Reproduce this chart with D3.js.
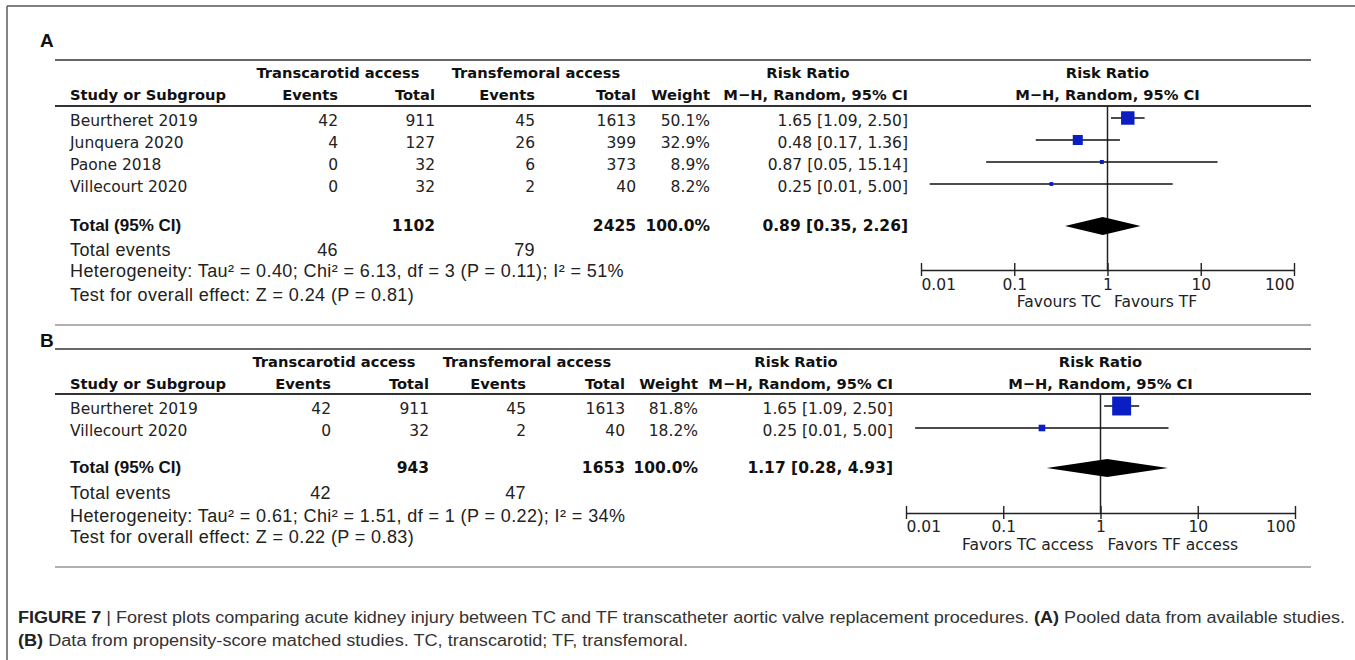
<!DOCTYPE html>
<html>
<head>
<meta charset="utf-8">
<script src="https://cdn.jsdelivr.net/npm/d3@7"></script>
<style>
  html, body { margin: 0; padding: 0; background: #fff; }
  svg { display: block; }
  .tbl   { font-family: "DejaVu Sans", sans-serif; font-size: 15.5px; fill: #222; }
  .hdr   { font-family: "DejaVu Sans", sans-serif; font-size: 14.7px; font-weight: bold; fill: #111; }
  .tblb  { font-family: "DejaVu Sans", sans-serif; font-size: 15.5px; font-weight: bold; fill: #111; }
  .foot  { font-family: "Liberation Sans", Arial, sans-serif; font-size: 18px; letter-spacing: 0.4px; fill: #222; }
  .footb { font-family: "Liberation Sans", Arial, sans-serif; font-size: 17px; font-weight: bold; fill: #111; }
  .letter{ font-family: "Liberation Sans", Arial, sans-serif; font-size: 19px; font-weight: bold; fill: #111; }
  .cap   { font-family: "Liberation Sans", Arial, sans-serif; font-size: 16px; fill: #333; }
  .capb  { font-weight: bold; fill: #222; }
</style>
</head>
<body>
<svg id="fig" width="1355" height="660"></svg>
<script>
// ---------- Panel A: pooled data from available studies ----------
const studiesA   = ["Beurtheret 2019", "Junquera 2020", "Paone 2018", "Villecourt 2020"];
const tcEventsA  = [42, 4, 0, 0];
const tcTotalA   = [911, 127, 32, 32];
const tfEventsA  = [45, 26, 6, 2];
const tfTotalA   = [1613, 399, 373, 40];
const weightA    = [50.1, 32.9, 8.9, 8.2];
const rrA        = [1.65, 0.48, 0.87, 0.25];
const rrLowA     = [1.09, 0.17, 0.05, 0.0124];
const rrHighA    = [2.50, 1.36, 15.14, 5.00];
const pooledA    = [0.89, 0.35, 2.26];          // estimate, lower, upper
const totalsA    = [1102, 2425, 100.0];         // TC total, TF total, weight
const totalEventsA = [46, 79];
const hetA  = "Heterogeneity: Tau² = 0.40; Chi² = 6.13, df = 3 (P = 0.11); I² = 51%";
const testA = "Test for overall effect: Z = 0.24 (P = 0.81)";
const favoursA = ["Favours TC", "Favours TF"];

// ---------- Panel B: propensity-score matched studies ----------
const studiesB   = ["Beurtheret 2019", "Villecourt 2020"];
const tcEventsB  = [42, 0];
const tcTotalB   = [911, 32];
const tfEventsB  = [45, 2];
const tfTotalB   = [1613, 40];
const weightB    = [81.8, 18.2];
const rrB        = [1.65, 0.25];
const rrLowB     = [1.09, 0.0124];
const rrHighB    = [2.50, 5.00];
const pooledB    = [1.17, 0.28, 4.93];
const totalsB    = [943, 1653, 100.0];
const totalEventsB = [42, 47];
const hetB  = "Heterogeneity: Tau² = 0.61; Chi² = 1.51, df = 1 (P = 0.22); I² = 34%";
const testB = "Test for overall effect: Z = 0.22 (P = 0.83)";
const favoursB = ["Favors TC access", "Favors TF access"];

// ---------- shared axis ----------
const axisTicks  = [0.01, 0.1, 1, 10, 100];
const axisLabels = ["0.01", "0.1", "1", "10", "100"];

const f2 = v => v.toFixed(2);
const ciLabel = (m, lo, hi) => `${f2(m)} [${f2(lo)}, ${f2(hi)}]`;

const svg = d3.select("#fig");

// outer frame (top and left edges)
svg.append("line").attr("x1", 7).attr("x2", 1355).attr("y1", 6).attr("y2", 6)
  .attr("stroke", "#555").attr("stroke-width", 1.6);
svg.append("line").attr("x1", 7).attr("x2", 7).attr("y1", 6).attr("y2", 660)
  .attr("stroke", "#666").attr("stroke-width", 1.6);

// marker side grows with study weight
const markerSize = d3.scalePow().exponent(0.7).domain([0, 100]).range([0, 21.8]);

function drawPanel(D, L) {
  const g = svg.append("g");
  const x = d3.scaleLog().domain([0.01, 100]).range([L.x0, L.x1]);
  const c = L.cols;

  const txt = (cls, xx, yy, s, anchor = "end") =>
    g.append("text").attr("class", cls).attr("x", xx).attr("y", yy)
      .attr("text-anchor", anchor).text(s);

  const rule = (yy, color) =>
    g.append("line").attr("x1", 55).attr("x2", 1311).attr("y1", yy).attr("y2", yy)
      .attr("stroke", color).attr("stroke-width", 1.8);

  txt("letter", 40, L.letterY, D.letter, "start");
  rule(L.topRule, "#666");
  rule(L.hdrRule, "#333");
  rule(L.bottomRule, "#b0b0b0");

  // header line 1
  txt("hdr", L.grpTc, L.hdr1, "Transcarotid access", "middle");
  txt("hdr", L.grpTf, L.hdr1, "Transfemoral access", "middle");
  txt("hdr", L.rrHead, L.hdr1, "Risk Ratio", "middle");
  txt("hdr", x(1), L.hdr1, "Risk Ratio", "middle");
  // header line 2
  txt("hdr", c.study, L.hdr2, "Study or Subgroup", "start");
  txt("hdr", c.tcEv, L.hdr2, "Events");
  txt("hdr", c.tcTot, L.hdr2, "Total");
  txt("hdr", c.tfEv, L.hdr2, "Events");
  txt("hdr", c.tfTot, L.hdr2, "Total");
  txt("hdr", c.weight, L.hdr2, "Weight");
  txt("hdr", c.rr, L.hdr2, "M\u2212H, Random, 95% CI");
  txt("hdr", x(1), L.hdr2, "M\u2212H, Random, 95% CI", "middle");

  // study rows
  const rowY = i => L.rowBase + i * L.rowStep;
  D.studies.forEach((s, i) => {
    const y = rowY(i);
    txt("tbl", c.study, y, s, "start");
    txt("tbl", c.tcEv, y, D.tcEv[i]);
    txt("tbl", c.tcTot, y, D.tcTot[i]);
    txt("tbl", c.tfEv, y, D.tfEv[i]);
    txt("tbl", c.tfTot, y, D.tfTot[i]);
    txt("tbl", c.weight, y, D.weight[i].toFixed(1) + "%");
    txt("tbl", c.rr, y, ciLabel(D.rr[i], D.lo[i], D.hi[i]));
  });

  // pooled row
  txt("footb", c.study, L.totalBase, "Total (95% CI)", "start");
  txt("tblb", c.tcTot, L.totalBase, D.totals[0]);
  txt("tblb", c.tfTot, L.totalBase, D.totals[1]);
  txt("tblb", c.weight, L.totalBase, D.totals[2].toFixed(1) + "%");
  txt("tblb", c.rr, L.totalBase, ciLabel(D.pooled[0], D.pooled[1], D.pooled[2]));

  txt("foot", c.study, L.eventsBase, "Total events", "start");
  txt("foot", c.tcEv, L.eventsBase, D.totalEvents[0]);
  txt("foot", c.tfEv, L.eventsBase, D.totalEvents[1]);
  txt("foot", c.study, L.hetBase, D.het, "start");
  txt("foot", c.study, L.testBase, D.test, "start");

  // line of no effect
  g.append("line").attr("x1", x(1)).attr("x2", x(1))
    .attr("y1", L.hdrRule).attr("y2", L.axisY)
    .attr("stroke", "#222").attr("stroke-width", 1.5);

  // confidence intervals
  g.selectAll(".ci").data(D.studies).join("line")
    .attr("x1", (d, i) => x(D.lo[i])).attr("x2", (d, i) => x(D.hi[i]))
    .attr("y1", (d, i) => rowY(i) - 8).attr("y2", (d, i) => rowY(i) - 8)
    .attr("stroke", "#111").attr("stroke-width", 1.5);

  // study estimates
  g.selectAll(".sq").data(D.studies).join("rect")
    .attr("x", (d, i) => x(D.rr[i]) - markerSize(D.weight[i]) / 2)
    .attr("y", (d, i) => rowY(i) - 8 - markerSize(D.weight[i]) / 2)
    .attr("width", (d, i) => markerSize(D.weight[i]))
    .attr("height", (d, i) => markerSize(D.weight[i]))
    .attr("fill", "#0a1ec4");

  // pooled diamond
  const dy = L.totalBase - 5, hh = 9;
  g.append("path")
    .attr("d", `M${x(D.pooled[1])},${dy} L${x(D.pooled[0])},${dy - hh} L${x(D.pooled[2])},${dy} L${x(D.pooled[0])},${dy + hh} Z`)
    .attr("fill", "#000");

  // log axis
  const axis = d3.axisBottom(x).tickValues(axisTicks)
    .tickFormat((v, i) => axisLabels[i]).tickSize(6).tickSizeOuter(0);
  const ag = g.append("g").attr("transform", `translate(0,${L.axisY})`).call(axis)
    .attr("font-family", null).attr("font-size", null);
  ag.select(".domain").attr("stroke", "#222").attr("stroke-width", 1.6);
  ag.selectAll(".tick line").attr("y1", -7).attr("y2", 6)
    .attr("stroke", "#222").attr("stroke-width", 1.4);
  ag.selectAll(".tick text").attr("class", "tbl")
    .attr("y", L.tickBase - L.axisY).attr("dy", null)
    .attr("text-anchor", (v, i) => i === 0 ? "start" : (i === axisTicks.length - 1 ? "end" : "middle"));

  txt("tbl", x(1) - L.favGap, L.favBase, D.favours[0], "end");
  txt("tbl", x(1) + L.favGap, L.favBase, D.favours[1], "start");
}

drawPanel(
  { letter: "A", studies: studiesA, tcEv: tcEventsA, tcTot: tcTotalA, tfEv: tfEventsA, tfTot: tfTotalA,
    weight: weightA, rr: rrA, lo: rrLowA, hi: rrHighA, pooled: pooledA, totals: totalsA,
    totalEvents: totalEventsA, het: hetA, test: testA, favours: favoursA },
  { letterY: 47, topRule: 60, hdr1: 78, hdr2: 100, hdrRule: 106, rowBase: 126, rowStep: 22,
    totalBase: 231, eventsBase: 256, hetBase: 277, testBase: 301, bottomRule: 325,
    cols: { study: 70, tcEv: 338, tcTot: 435, tfEv: 535, tfTot: 636, weight: 710, rr: 908 },
    grpTc: 338, grpTf: 536, rrHead: 808,
    x0: 921, x1: 1294, axisY: 270, tickBase: 290, favBase: 307, favGap: 6.5 }
);

drawPanel(
  { letter: "B", studies: studiesB, tcEv: tcEventsB, tcTot: tcTotalB, tfEv: tfEventsB, tfTot: tfTotalB,
    weight: weightB, rr: rrB, lo: rrLowB, hi: rrHighB, pooled: pooledB, totals: totalsB,
    totalEvents: totalEventsB, het: hetB, test: testB, favours: favoursB },
  { letterY: 347, topRule: 349, hdr1: 367, hdr2: 389, hdrRule: 394, rowBase: 414, rowStep: 22,
    totalBase: 473, eventsBase: 499, hetBase: 522, testBase: 543, bottomRule: 567,
    cols: { study: 70, tcEv: 331, tcTot: 429, tfEv: 526, tfTot: 625, weight: 698, rr: 893 },
    grpTc: 334, grpTf: 527, rrHead: 796,
    x0: 906, x1: 1295, axisY: 513, tickBase: 532, favBase: 550, favGap: 7 }
);

// figure caption
const cap1 = svg.append("text").attr("class", "cap").attr("x", 18).attr("y", 623)
  .attr("textLength", 1327).attr("lengthAdjust", "spacingAndGlyphs");
cap1.append("tspan").attr("class", "capb").text("FIGURE 7");
cap1.append("tspan").text(" | Forest plots comparing acute kidney injury between TC and TF transcatheter aortic valve replacement procedures. ");
cap1.append("tspan").attr("class", "capb").text("(A)");
cap1.append("tspan").text(" Pooled data from available studies.");

const cap2 = svg.append("text").attr("class", "cap").attr("x", 18).attr("y", 646)
  .attr("textLength", 670).attr("lengthAdjust", "spacingAndGlyphs");
cap2.append("tspan").attr("class", "capb").text("(B)");
cap2.append("tspan").text(" Data from propensity-score matched studies. TC, transcarotid; TF, transfemoral.");
</script>
</body>
</html>
